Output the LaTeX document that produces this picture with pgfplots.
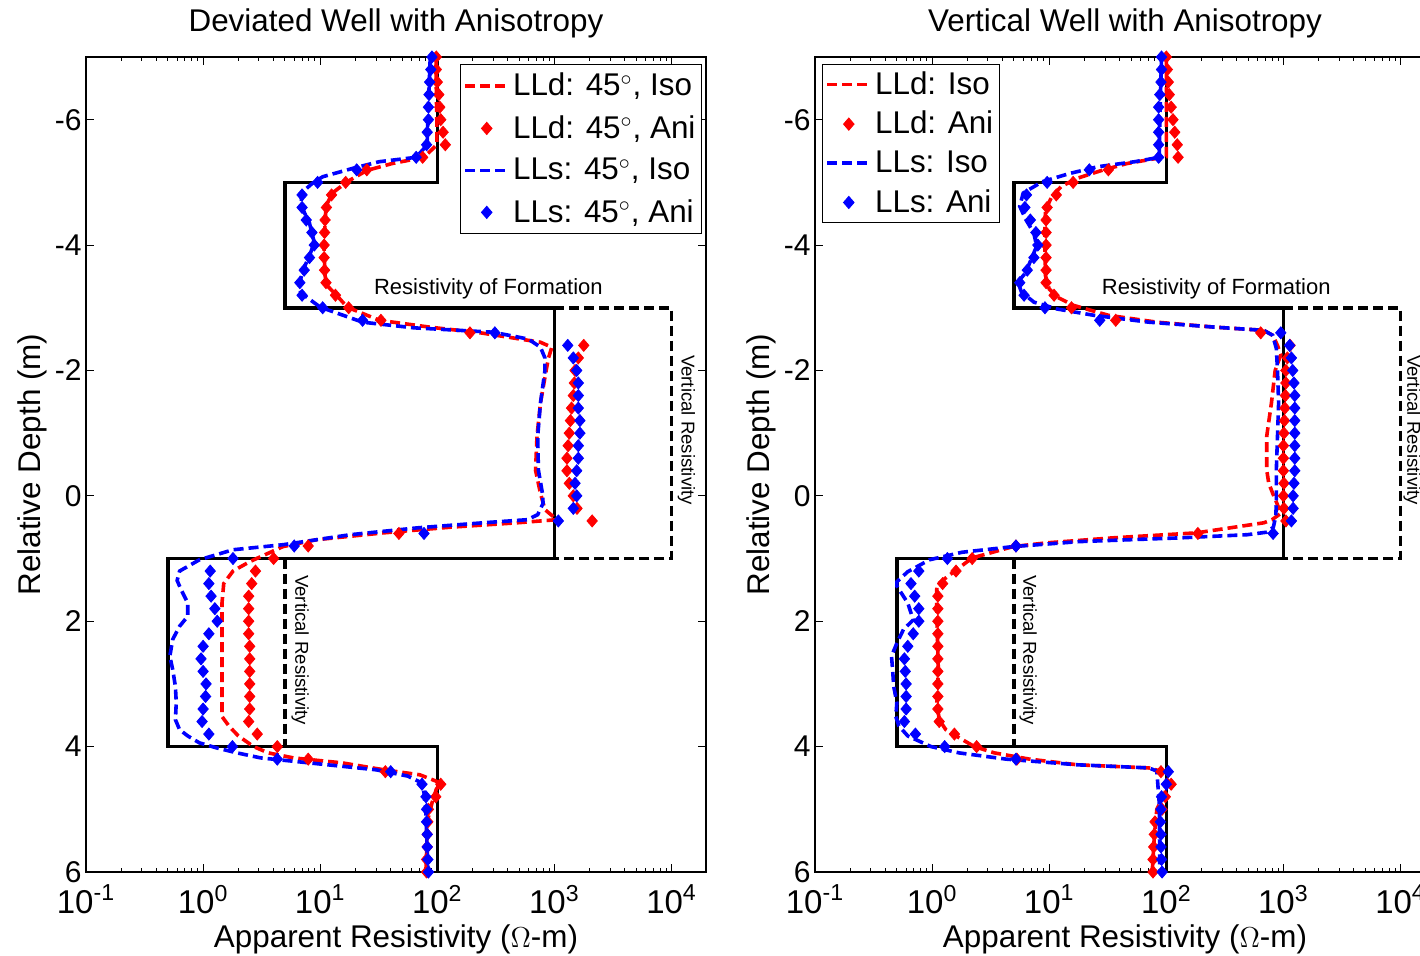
\documentclass[border=0pt]{standalone}
\usepackage{fontspec}
\setmainfont{Liberation Sans}
\usepackage{pgfplots}
\usepackage{pgfplotstable}
\pgfplotsset{compat=1.18}

\newcommand\fA{\fontsize{15.7}{18}\selectfont}
\newcommand\fT{\fontsize{15}{17}\selectfont}
\newcommand\fX{\fontsize{16.5}{19}\selectfont}
\newcommand\fS{\fontsize{11}{13}\selectfont}
\newcommand\fV{\fontsize{9.3}{11}\selectfont}

% depth, LLd anisotropic, LLs anisotropic (deviated well)
\pgfplotstableread{
d lld lls
-7.0 98 90
-6.8 98 88
-6.6 100 86
-6.4 103 85
-6.2 105 84
-6.0 107 84
-5.8 112 82
-5.6 117 81
-5.4 75 66
-5.2 25 20.5
-5.0 16.5 9.5
-4.8 12.5 7.0
-4.6 11.3 7.0
-4.4 11.0 7.6
-4.2 10.9 8.5
-4.0 10.8 8.9
-3.8 10.8 8.1
-3.6 10.9 7.3
-3.4 11.2 6.7
-3.2 13.5 7.0
-3.0 17.5 10.5
-2.8 33 23
-2.6 190 310
-2.4 1780 1300
-2.2 1600 1450
-2.0 1500 1550
-1.8 1480 1600
-1.6 1450 1600
-1.4 1400 1600
-1.2 1370 1650
-1.0 1340 1650
-0.8 1310 1600
-0.6 1280 1600
-0.4 1280 1550
-0.2 1340 1500
0.0 1450 1550
0.2 1560 1450
0.4 2100 1080
0.6 47 77
0.8 7.9 6
1.0 4.0 1.8
1.2 2.8 1.15
1.4 2.6 1.12
1.6 2.45 1.17
1.8 2.45 1.26
2.0 2.45 1.32
2.2 2.45 1.12
2.4 2.5 1.0
2.6 2.5 0.96
2.8 2.5 1.0
3.0 2.5 1.06
3.2 2.5 1.05
3.4 2.5 1.0
3.6 2.45 0.98
3.8 2.9 1.12
4.0 4.3 1.78
4.2 7.9 4.3
4.4 36 40
4.6 107 74
4.8 97 80
5.0 84 81
5.2 83 81
5.4 82 82
5.6 82 82
5.8 81 83
6.0 81 84
}\devani

% depth, LLd anisotropic, LLs anisotropic (vertical well)
\pgfplotstableread{
d lld lls
-7.0 100 91
-6.8 102 91
-6.6 104 90
-6.4 106 88
-6.2 110 86
-6.0 114 86
-5.8 118 86
-5.6 124 86
-5.4 126 86
-5.2 32 22
-5.0 16 9.6
-4.8 11.5 6.4
-4.6 9.6 6.2
-4.4 9.4 6.9
-4.2 9.4 7.7
-4.0 9.4 8.0
-3.8 9.4 7.4
-3.6 9.4 6.5
-3.4 9.4 5.6
-3.2 11 6.1
-3.0 15.5 9.2
-2.8 37 27
-2.6 640 950
-2.4 1140 1130
-2.2 1080 1170
-2.0 1050 1200
-1.8 1050 1230
-1.6 1040 1250
-1.4 1030 1250
-1.2 1020 1250
-1.0 1010 1250
-0.8 1000 1250
-0.6 1000 1250
-0.4 1000 1250
-0.2 1010 1230
0.0 1000 1210
0.2 1010 1210
0.4 1050 1170
0.6 186 816
0.8 5.2 5.2
1.0 2.2 1.35
1.2 1.6 0.77
1.4 1.23 0.66
1.6 1.12 0.71
1.8 1.12 0.77
2.0 1.12 0.77
2.2 1.12 0.69
2.4 1.12 0.62
2.6 1.12 0.58
2.8 1.12 0.59
3.0 1.12 0.60
3.2 1.12 0.60
3.4 1.12 0.60
3.6 1.15 0.58
3.8 1.55 0.72
4.0 2.4 1.28
4.2 5.3 5.2
4.4 90 104
4.6 110 100
4.8 98 91
5.0 92 90
5.2 80 89
5.4 79 90
5.6 78 90
5.8 77 91
6.0 77 92
}\verani

\pgfplotsset{
  legend image code/.code={\draw[mark repeat=2,mark phase=2,#1] plot coordinates {(0pt,0pt) (10.75pt,0pt) (21.5pt,0pt)};},
  iso/.style={line width=1.8pt, dash pattern=on 5pt off 2.5pt, no marks},
  ani/.style={only marks, mark=diamond*, mark size=3pt, mark options={xscale=1.15}},
  frm/.style={black, line width=1.8pt, no marks, forget plot},
  frmd/.style={black, line width=1.8pt, dash pattern=on 5pt off 2.5pt, no marks, forget plot},
}

\begin{document}
\begin{tikzpicture}
% ---------------- Deviated well ----------------
\begin{axis}[
  scale only axis, width=310pt, height=407.5pt,
  at={(43pt,42pt)}, anchor=south west,
  xmode=log, xmin=0.1, xmax=19700, ymin=-7, ymax=6, y dir=reverse,
  axis line style={line width=0.6pt},
  xtick={0.1,1,10,100,1000,10000},
  xticklabels={10\textsuperscript{-1},10\textsuperscript{0},10\textsuperscript{1},10\textsuperscript{2},10\textsuperscript{3},10\textsuperscript{4}},
  minor xtick={0.2,0.3,0.4,0.5,0.6,0.7,0.8,0.9,2,3,4,5,6,7,8,9,20,30,40,50,60,70,80,90,200,300,400,500,600,700,800,900,2000,3000,4000,5000,6000,7000,8000,9000},
  ytick={-6,-4,-2,0,2,4,6},
  yticklabels={-6,-4,-2,0,2,4,6},
  tick align=inside,
  major tick length=4pt, minor tick length=2.2pt,
  tick style={black, line width=0.5pt},
  xticklabel style={font=\fX, yshift=-3pt},
  yticklabel style={font=\fT, inner xsep=2pt},
  title style={font=\fA, at={(0.5,1)}, anchor=center, yshift=11pt},
  xlabel={Apparent Resistivity ($\Omega$-m)},
  ylabel={Relative Depth (m)},
  x label style={font=\fA, at={(axis description cs:0.5,0)}, anchor=center, yshift=-33.5pt},
  y label style={font=\fA, at={(axis description cs:-0.087,0.5)}, anchor=center},
  title={Deviated Well with Anisotropy},
  legend style={font=\fA, draw=black, line width=0.5pt, fill=white,
    inner xsep=1.5pt, inner ysep=4.25pt, row sep=8.4pt,
    nodes={inner xsep=1.5pt, inner ysep=0pt}, cells={anchor=west},
    at={(1,1)}, anchor=north east, xshift=-2pt, yshift=-3.5pt},
]
\addplot[frm] coordinates {(100,-7) (100,-5) (5,-5) (5,-3) (1000,-3) (1000,1) (0.5,1) (0.5,4) (100,4) (100,6)};
\addplot[frmd] coordinates {(1000,-3) (10000,-3) (10000,1) (1000,1)};
\addplot[frmd] coordinates {(5,1) (5,4)};

\addplot[iso, red] coordinates {
(98,-7) (98,-6.5) (99,-6) (99,-5.6) (77,-5.4) (41,-5.3) (25,-5.19) (17,-5.01) (12.7,-4.83) (11.2,-4.62) (11,-4.35) (10.8,-3.93) (11,-3.51) (11.5,-3.35) (13.8,-3.2) (17,-3.01) (32,-2.8) (87,-2.69) (234,-2.6) (760,-2.45) (950,-2.37) (890,-2.2) (850,-2.0) (760,-1.48) (710,-0.95) (690,-0.41) (760,-0.04) (830,0.22) (1050,0.38) (480,0.43) (130,0.50) (35,0.59) (9.3,0.70) (4.8,0.81) (2.5,1.05) (1.8,1.2) (1.5,1.4) (1.45,1.71) (1.45,2.77) (1.45,3.52) (1.66,3.67) (2.0,3.83) (2.7,4.0) (3.6,4.1) (5.9,4.18) (15.5,4.26) (35,4.37) (71,4.45) (107,4.58) (98,4.68) (90,4.9) (83,5.16) (80,5.96) (80,6)};
\addlegendentry{LLd: 45$^\circ$, Iso}
\addplot[ani, red] table[x=lld, y=d] {\devani};
\addlegendentry{LLd: 45$^\circ$, Ani}
\addplot[iso, blue] coordinates {
(87,-7) (85,-6.5) (83,-6) (82,-5.6) (66,-5.4) (32,-5.33) (19.5,-5.23) (10.5,-5.09) (8.5,-4.98) (6.9,-4.83) (6.9,-4.62) (8.1,-4.35) (8.9,-4.04) (8.1,-3.83) (7.2,-3.62) (6.7,-3.41) (6.8,-3.24) (10,-3.01) (23,-2.77) (63,-2.68) (300,-2.61) (600,-2.5) (760,-2.37) (830,-2.2) (830,-2.0) (760,-1.48) (720,-0.95) (730,-0.41) (790,-0.04) (800,0.12) (720,0.3) (590,0.38) (245,0.43) (68,0.51) (18,0.62) (4.8,0.78) (1.8,0.86) (0.93,1.02) (0.63,1.2) (0.6,1.35) (0.65,1.5) (0.74,1.71) (0.74,1.92) (0.63,2.08) (0.55,2.29) (0.52,2.56) (0.55,2.77) (0.58,3.04) (0.59,3.3) (0.58,3.57) (0.63,3.73) (0.74,3.83) (0.93,3.94) (1.3,4.02) (1.95,4.1) (3.1,4.18) (8.1,4.26) (30,4.37) (56,4.47) (74,4.58) (77,4.74) (80,5.06) (83,5.96) (83,6)};
\addlegendentry{LLs: 45$^\circ$, Iso}
\addplot[ani, blue] table[x=lls, y=d] {\devani};
\addlegendentry{LLs: 45$^\circ$, Ani}

\node[font=\fS] at (axis cs:273,-3.3) {Resistivity of Formation};
\node[font=\fV, rotate=-90] at (axis cs:13430,-1.05) {Vertical Resistivity};
\node[font=\fV, rotate=-90] at (axis cs:6.75,2.46) {Vertical Resistivity};
\end{axis}

% ---------------- Vertical well ----------------
\begin{axis}[
  scale only axis, width=310pt, height=407.5pt,
  at={(407.5pt,42pt)}, anchor=south west,
  xmode=log, xmin=0.1, xmax=19700, ymin=-7, ymax=6, y dir=reverse,
  axis line style={line width=0.6pt},
  xtick={0.1,1,10,100,1000,10000},
  xticklabels={10\textsuperscript{-1},10\textsuperscript{0},10\textsuperscript{1},10\textsuperscript{2},10\textsuperscript{3},10\textsuperscript{4}},
  minor xtick={0.2,0.3,0.4,0.5,0.6,0.7,0.8,0.9,2,3,4,5,6,7,8,9,20,30,40,50,60,70,80,90,200,300,400,500,600,700,800,900,2000,3000,4000,5000,6000,7000,8000,9000},
  ytick={-6,-4,-2,0,2,4,6},
  yticklabels={-6,-4,-2,0,2,4,6},
  tick align=inside,
  major tick length=4pt, minor tick length=2.2pt,
  tick style={black, line width=0.5pt},
  xticklabel style={font=\fX, yshift=-3pt},
  yticklabel style={font=\fT, inner xsep=2pt},
  title style={font=\fA, at={(0.5,1)}, anchor=center, yshift=11pt},
  xlabel={Apparent Resistivity ($\Omega$-m)},
  ylabel={Relative Depth (m)},
  x label style={font=\fA, at={(axis description cs:0.5,0)}, anchor=center, yshift=-33.5pt},
  y label style={font=\fA, at={(axis description cs:-0.087,0.5)}, anchor=center},
  title={Vertical Well with Anisotropy},
  legend style={font=\fA, draw=black, line width=0.5pt, fill=white,
    inner xsep=1.5pt, inner ysep=3.5pt, row sep=7pt,
    nodes={inner xsep=1.5pt, inner ysep=0pt}, cells={anchor=west},
    at={(0,1)}, anchor=north west, xshift=3.5pt, yshift=-3.5pt},
]
\addplot[frm] coordinates {(100,-7) (100,-5) (5,-5) (5,-3) (1000,-3) (1000,1) (0.5,1) (0.5,4) (100,4) (100,6)};
\addplot[frmd] coordinates {(1000,-3) (10000,-3) (10000,1) (1000,1)};
\addplot[frmd] coordinates {(5,1) (5,4)};

\addplot[iso, red] coordinates {
(100,-7) (100,-6) (100,-5.41) (46,-5.3) (28,-5.19) (17,-5.06) (12.6,-4.93) (10.5,-4.77) (9.3,-4.56) (9.2,-4.35) (9.2,-3.93) (9.3,-3.51) (10,-3.3) (11.7,-3.17) (16,-3.04) (32,-2.88) (83,-2.77) (263,-2.69) (680,-2.64) (810,-2.56) (890,-2.4) (950,-2.25) (850,-2.0) (790,-1.48) (720,-0.95) (720,-0.41) (750,-0.2) (810,-0.04) (880,0.12) (950,0.28) (800,0.38) (680,0.43) (182,0.59) (35,0.67) (9.5,0.75) (4.9,0.81) (2.2,0.99) (1.35,1.29) (1.1,1.42) (1.09,1.6) (1.1,1.98) (1.13,2.77) (1.1,3.3) (1.15,3.57) (1.31,3.73) (1.6,3.83) (2.3,4.0) (3.4,4.1) (6.8,4.2) (17.4,4.29) (71,4.34) (89,4.39) (107,4.58) (94,4.79) (83,5.0) (79,5.43) (76,5.96) (76,6)};
\addlegendentry{LLd: Iso}
\addplot[ani, red] table[x=lld, y=d] {\verani};
\addlegendentry{LLd: Ani}
\addplot[iso, blue] coordinates {
(91,-7) (88,-6) (87,-5.4) (54,-5.33) (26,-5.25) (14.8,-5.14) (8.7,-5.01) (6.0,-4.83) (5.6,-4.62) (6.3,-4.41) (7.4,-4.19) (7.8,-3.98) (7.0,-3.77) (6.3,-3.56) (5.4,-3.41) (5.8,-3.25) (7.4,-3.09) (11.7,-2.98) (24,-2.88) (71,-2.77) (263,-2.69) (680,-2.64) (810,-2.56) (870,-2.35) (890,-2.0) (910,-1.48) (890,-0.95) (870,-0.41) (870,0.12) (860,0.33) (820,0.5) (720,0.58) (490,0.62) (132,0.67) (18,0.73) (4.9,0.81) (1.8,0.9) (0.95,1.02) (0.62,1.21) (0.5,1.37) (0.5,1.44) (0.62,1.71) (0.69,1.98) (0.57,2.13) (0.5,2.35) (0.45,2.56) (0.46,2.77) (0.47,3.04) (0.5,3.3) (0.49,3.52) (0.52,3.67) (0.62,3.83) (0.98,4.0) (1.7,4.1) (4.3,4.2) (17.4,4.29) (71,4.34) (83,4.39) (85,4.65) (87,4.9) (88,6)};
\addlegendentry{LLs: Iso}
\addplot[ani, blue] table[x=lls, y=d] {\verani};
\addlegendentry{LLs: Ani}

\node[font=\fS] at (axis cs:267,-3.3) {Resistivity of Formation};
\node[font=\fV, rotate=-90] at (axis cs:12600,-1.05) {Vertical Resistivity};
\node[font=\fV, rotate=-90] at (axis cs:6.6,2.46) {Vertical Resistivity};
\end{axis}

\pgfresetboundingbox
\path[use as bounding box] (0,0) rectangle (710pt,478pt);
\end{tikzpicture}
\end{document}
